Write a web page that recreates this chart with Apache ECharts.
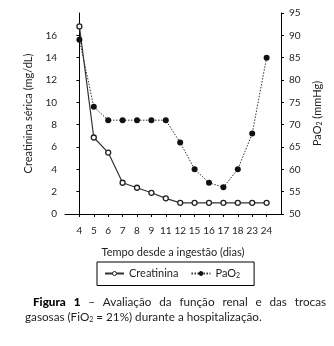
<!DOCTYPE html>
<html><head><meta charset="utf-8">
<script src="https://cdn.jsdelivr.net/npm/echarts@6/dist/echarts.min.js"></script>
<style>html,body{margin:0;padding:0;background:#fff}#c{width:334px;height:346px}</style>
</head><body><div id="c"></div>
<script>
const days = ['4','5','6','7','8','9','11','12','15','16','17','18','23','24'];
const creatinina = [16.8, 6.85, 5.5, 2.8, 2.35, 1.9, 1.4, 1.0, 1.0, 1.0, 1.0, 1.0, 1.0, 1.0];
const pao2 = [89, 74, 71, 71, 71, 71, 71, 66, 60, 57, 56, 60, 68, 85];
const leftTicks = [0, 2, 4, 6, 8, 10, 12, 14, 16];
const rightTicks = [50, 55, 60, 65, 70, 75, 80, 85, 90, 95];

const FONT = 'Lato';
const ink = '#1e1e1e';
const idx = days.map((d, i) => i);
const sub = { fontSize: 7, fontFamily: FONT, color: ink, verticalAlign: 'bottom', padding: [5, 0, 0, 0] };

const chart = echarts.init(document.getElementById('c'), null, { renderer: 'canvas' });

// caption line 1 justified
const words1 = ['Figura', '1', '–', 'Avaliação', 'da', 'função', 'renal', 'e', 'das', 'trocas'];
const cv = document.createElement('canvas').getContext('2d');
const capSize = 11.7;
const fontOf = i => (i < 2 ? '900 ' : '') + capSize + 'px ' + FONT;
const widths = words1.map((w, i) => { cv.font = fontOf(i); return cv.measureText(w).width; });
const x0 = 33, x1 = 326;
const gap = (x1 - x0 - widths.reduce((a, b) => a + b, 0)) / (words1.length - 1);
let cx = x0;
const capElems = words1.map((w, i) => {
  const el = { type: 'text', left: cx, top: 296, style: { text: w, font: fontOf(i), fill: i < 2 ? '#000' : ink } };
  cx += widths[i] + gap;
  return el;
});
capElems.push({ type: 'text', left: 25, top: 311, style: {
  text: 'gasosas (FiO{s|2} = 21%) durante a hospitalização.',
  font: capSize + 'px ' + FONT, fill: ink,
  rich: { s: { fontSize: 7, fontFamily: FONT, fill: ink, verticalAlign: 'bottom', padding: [6, 0, 0, 0] } }
} });

chart.setOption({
  animation: false,
  backgroundColor: '#fff',
  textStyle: { fontFamily: FONT, color: ink },
  grid: { left: 65, right: 53, top: 13, bottom: 132, containLabel: false, outerBoundsMode: 'none' },
  legend: {
    left: 97, top: 262,
    borderColor: '#000', borderWidth: 1, borderRadius: 0,
    padding: [6, 14, 6, 7],
    itemWidth: 19, itemHeight: 5, itemGap: 12,
    itemStyle: { borderWidth: 1 },
    textStyle: { fontSize: 11, fontFamily: FONT, color: ink, rich: { sub: sub } },
    formatter: n => n === 'PaO2' ? 'PaO{sub|2}' : n,
    data: ['Creatinina', 'PaO2']
  },
  xAxis: {
    type: 'value', min: -1, max: 14, interval: 1,
    name: 'Tempo desde a ingestão (dias)', nameLocation: 'middle', nameGap: 33,
    nameTextStyle: { fontSize: 11, fontFamily: FONT, color: ink },
    axisLine: { lineStyle: { color: '#000', width: 1 } },
    axisTick: { length: 3, lineStyle: { color: '#000' }, customValues: idx },
    axisLabel: { customValues: idx, formatter: v => days[v] ?? '', fontSize: 10, color: ink, margin: 12 },
    splitLine: { show: false }
  },
  yAxis: [{
    type: 'value', min: 0, max: 18, interval: 2, position: 'left',
    name: 'Creatinina sérica (mg/dL)', nameLocation: 'middle', nameGap: 31, nameRotate: 90,
    nameTextStyle: { fontSize: 11, fontFamily: FONT, color: ink },
    axisLine: { show: true, lineStyle: { color: '#000', width: 1 } },
    axisTick: { show: true, length: 3, lineStyle: { color: '#000' }, customValues: leftTicks },
    axisLabel: { customValues: leftTicks, fontSize: 10, color: ink, margin: 8 },
    splitLine: { show: false }
  }, {
    type: 'value', min: 50, max: 95, interval: 5, position: 'right',
    name: 'PaO{sub|2} (mmHg)', nameLocation: 'middle', nameGap: 30, nameRotate: 90,
    nameTextStyle: { fontSize: 11, fontFamily: FONT, color: ink, rich: { sub: sub } },
    axisLine: { show: true, lineStyle: { color: '#000', width: 1 } },
    axisTick: { show: true, length: 3, lineStyle: { color: '#000' }, customValues: rightTicks },
    axisLabel: { customValues: rightTicks, fontSize: 10, color: ink, margin: 8 },
    splitLine: { show: false }
  }],
  series: [{
    name: 'Creatinina', type: 'line', yAxisIndex: 0,
    data: creatinina.map((v, i) => [i, v]),
    symbol: 'circle', symbolSize: 5,
    lineStyle: { color: '#333', width: 1.2 },
    itemStyle: { color: '#fff', borderColor: '#222', borderWidth: 1.3 },
    z: 2
  }, {
    name: 'PaO2', type: 'line', yAxisIndex: 1,
    data: pao2.map((v, i) => [i, v]),
    symbol: 'circle', symbolSize: 6,
    lineStyle: { color: '#333', width: 1, type: [1.5, 1.5] },
    itemStyle: { color: '#111', borderColor: '#111', borderWidth: 0 },
    z: 3
  }],
  graphic: capElems
});
</script></body></html>
